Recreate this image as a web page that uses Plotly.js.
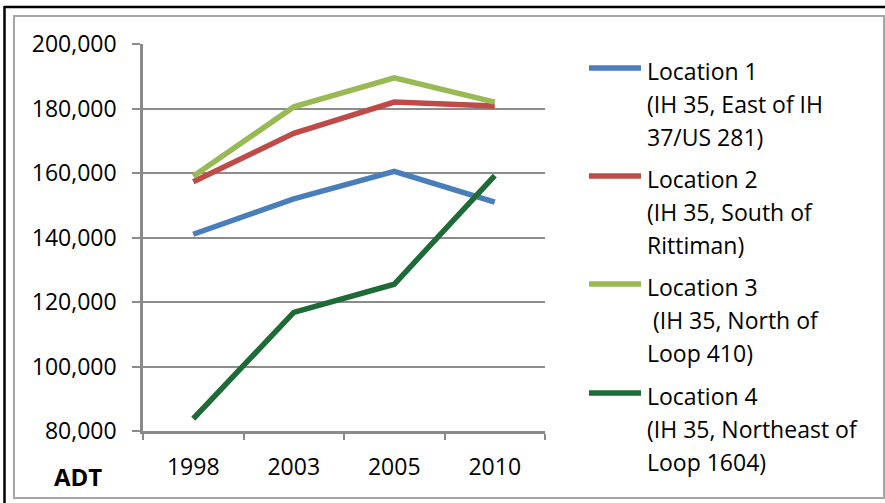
<!DOCTYPE html>
<html>
<head>
<meta charset="utf-8">
<script src="https://cdn.plot.ly/plotly-3.0.1.min.js"></script>
<style>html,body{margin:0;padding:0;background:#fff;}#chart{width:885px;height:503px;}</style>
</head>
<body>
<div id="chart"></div>
<script>
// ---- data ----
const years = ["1998", "2003", "2005", "2010"];
const seriesNames = ["Location 1", "Location 2", "Location 3", "Location 4"];
const seriesDesc = [
  ["(IH 35, East of IH", "37/US 281)"],
  ["(IH 35, South of", "Rittiman)"],
  ["\u00a0(IH 35, North of", "Loop 410)"],
  ["(IH 35, Northeast of", "Loop 1604)"]
];
const loc1 = [141000, 152000, 160500, 151000];
const loc2 = [157300, 172300, 182000, 180800];
const loc3 = [159000, 180500, 189500, 182000];
const loc4 = [83800, 116800, 125500, 159200];
const seriesColors = ["#4A7EBB", "#BE4B48", "#98B954", "#1E6B37"];
const yLabel = "ADT";

// ---- layout helpers (pixel -> paper) ----
const W = 885, H = 503;
const M = {l: 143, r: 340, t: 44, b: 72};
const PW = W - M.l - M.r, PH = H - M.t - M.b;
const xp = px => (px - M.l) / PW;
const yp = py => (H - M.b - py) / PH;

const FONT = "Open Sans, Lato, DejaVu Sans, sans-serif";
const allSeries = [loc1, loc2, loc3, loc4];

const traces = allSeries.map((vals, i) => ({
  type: "scatter",
  mode: "lines",
  x: years,
  y: vals,
  name: seriesNames[i],
  line: {color: seriesColors[i], width: 5.5},
  showlegend: false,
  hoverinfo: "x+y+name"
}));

const shapes = [
  // outer chart frame
  {type: "rect", xref: "paper", yref: "paper", x0: xp(14), x1: xp(884), y0: yp(498), y1: yp(16),
   line: {color: "#a6a6a6", width: 2}, fillcolor: "rgba(0,0,0,0)", layer: "below"},
  {type: "line", xref: "paper", yref: "paper", x0: xp(4), x1: xp(886), y0: yp(7), y1: yp(7),
   line: {color: "#000", width: 2.5}},
  {type: "line", xref: "paper", yref: "paper", x0: xp(4.5), x1: xp(4.5), y0: yp(6), y1: yp(505),
   line: {color: "#000", width: 2.5}}
];
const annotations = [
  {xref: "paper", yref: "paper", x: xp(77.5), y: yp(476), text: "<b>" + yLabel + "</b>",
   showarrow: false, xanchor: "center", yanchor: "middle", font: {family: FONT, size: 24, color: "#000"}}
];

// manual legend
const swatchY = [68, 176, 284, 393];
const lineGap = 33;
seriesNames.forEach((nm, i) => {
  shapes.push({type: "line", xref: "paper", yref: "paper", x0: xp(589), x1: xp(641),
    y0: yp(swatchY[i]), y1: yp(swatchY[i]), line: {color: seriesColors[i], width: 5.5}});
  const lines = [nm].concat(seriesDesc[i]);
  lines.forEach((t, k) => {
    annotations.push({xref: "paper", yref: "paper", x: xp(645), y: yp(swatchY[i] + 3 + k * lineGap),
      text: t, showarrow: false, xanchor: "left", yanchor: "middle",
      font: {family: FONT, size: 23, color: "#000"}});
  });
});

const layout = {
  width: W, height: H,
  margin: M,
  paper_bgcolor: "#fff", plot_bgcolor: "#fff",
  font: {family: FONT, size: 23, color: "#000"},
  showlegend: false,
  xaxis: {
    type: "category",
    range: [-0.5, 3.5],
    showgrid: false,
    showline: true, linecolor: "#8a8a8a", linewidth: 2.5,
    ticks: "outside", tickson: "boundaries", ticklen: 6, tickwidth: 2, tickcolor: "#8a8a8a",
    ticklabelstandoff: 14,
    tickfont: {family: FONT, size: 23, color: "#000"},
    zeroline: false, fixedrange: true
  },
  yaxis: {
    range: [80000, 200000],
    dtick: 20000, tick0: 80000,
    tickformat: ",d",
    showgrid: true, gridcolor: "#8c8c8c", gridwidth: 1.5,
    showline: true, linecolor: "#8a8a8a", linewidth: 2.5,
    ticks: "outside", ticklen: 8, tickwidth: 1.5, tickcolor: "#8c8c8c",
    ticklabelstandoff: 11,
    tickfont: {family: FONT, size: 23, color: "#000"},
    zeroline: false, fixedrange: true
  },
  shapes: shapes,
  annotations: annotations
};

Plotly.newPlot("chart", traces, layout, {displayModeBar: false, staticPlot: false});
</script>
</body>
</html>
